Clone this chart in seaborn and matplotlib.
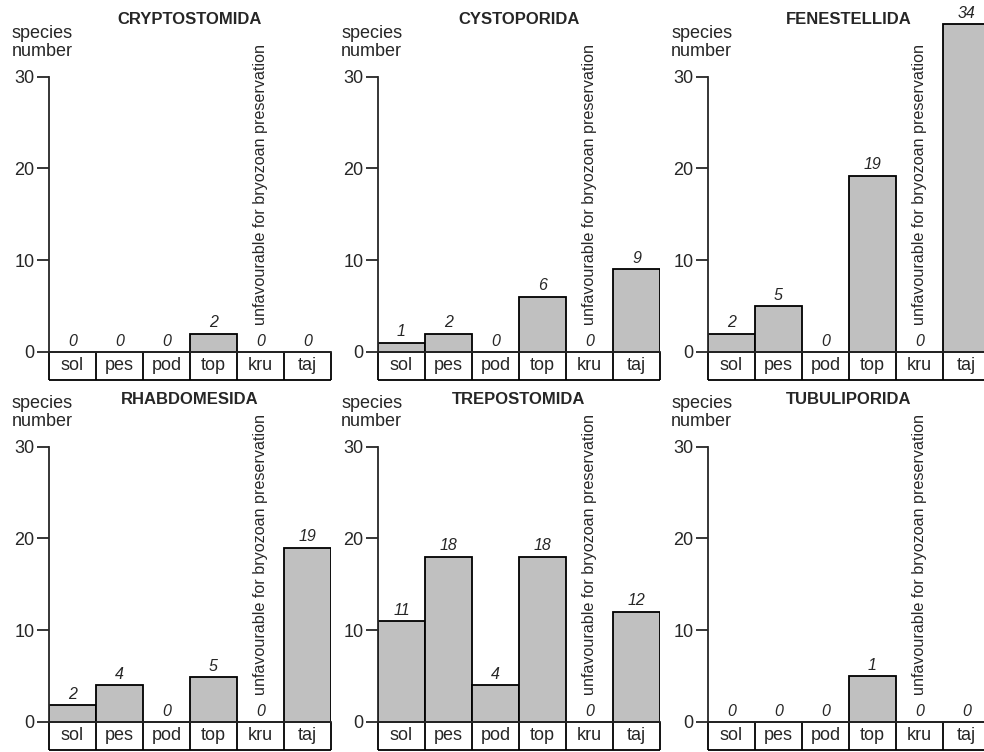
import numpy as np
import pandas as pd
import matplotlib
matplotlib.use("Agg")
import matplotlib.pyplot as plt
import seaborn as sns

sns.set_style("ticks")
plt.rcParams["font.family"] = ["Liberation Sans", "DejaVu Sans"]

# ---- data ----
categories = ["sol", "pes", "pod", "top", "kru", "taj"]
orders = ["CRYPTOSTOMIDA", "CYSTOPORIDA", "FENESTELLIDA",
          "RHABDOMESIDA", "TREPOSTOMIDA", "TUBULIPORIDA"]

# printed species numbers
cryptostomida_labels = [0, 0, 0, 2, 0, 0]
cystoporida_labels = [1, 2, 0, 6, 0, 9]
fenestellida_labels = [2, 5, 0, 19, 0, 34]
rhabdomesida_labels = [2, 4, 0, 5, 0, 19]
trepostomida_labels = [11, 18, 4, 18, 0, 12]
tubuliporida_labels = [0, 0, 0, 1, 0, 0]

# bar heights as drawn in the figure
cryptostomida_bars = [0, 0, 0, 2, 0, 0]
cystoporida_bars = [1, 2, 0, 6, 0, 9]
fenestellida_bars = [2, 5, 0, 19.2, 0, 35.7]
rhabdomesida_bars = [1.8, 4, 0, 4.9, 0, 19]
trepostomida_bars = [11, 18, 4, 18, 0, 12]
tubuliporida_bars = [0, 0, 0, 5, 0, 0]

yticks = [0, 10, 20, 30]
note = "unfavourable for bryozoan preservation"

bars = [cryptostomida_bars, cystoporida_bars, fenestellida_bars,
        rhabdomesida_bars, trepostomida_bars, tubuliporida_bars]
labels = [cryptostomida_labels, cystoporida_labels, fenestellida_labels,
          rhabdomesida_labels, trepostomida_labels, tubuliporida_labels]

# ---- layout (pixels) ----
W, H = 984, 752
fig = plt.figure(figsize=(W / 100, H / 100), dpi=100)
UNIT = 9.18          # px per species unit
BOX = 28             # px height of category box
AX_W = 282
AX_H = 370
spine_x = [49, 378, 708]
zero_y = [352, 722]
title_y = [19, 399]
LW = 1.3
GRAY = "#c0c0c0"

for k, name in enumerate(orders):
    r, c = divmod(k, 3)
    sx, zy = spine_x[c], zero_y[r]
    ax = fig.add_axes([sx / W, (H - (zy + BOX)) / H, AX_W / W, AX_H / H])
    df = pd.DataFrame({"cat": categories, "val": bars[k]})
    sns.barplot(data=df, x="cat", y="val", order=categories, ax=ax,
                color=GRAY, saturation=1, edgecolor="black",
                linewidth=LW, width=1.0)
    box = BOX / UNIT
    top = (AX_H - BOX) / UNIT
    ax.set_xlim(-0.5, 5.5)
    ax.set_ylim(-box, top)
    ax.set_xlabel("")
    ax.set_ylabel("")
    ax.set_xticks([])
    ax.set_yticks(yticks)
    ax.tick_params(axis="y", length=8.6, width=LW, pad=2, labelsize=13,
                   direction="out")
    for s in ["top", "right"]:
        ax.spines[s].set_visible(False)
    ax.spines["left"].set_bounds(0, 30)
    ax.spines["left"].set_linewidth(LW)
    ax.spines["bottom"].set_position(("data", 0))
    ax.spines["bottom"].set_linewidth(LW)
    ax.patch.set_alpha(0)
    # category box
    ax.hlines(-box, -0.5, 5.5, color="black", lw=LW, clip_on=False)
    ax.vlines(np.arange(len(categories) + 1) - 0.5, -box, 0,
              color="black", lw=LW, clip_on=False)
    for i, cat in enumerate(categories):
        ax.text(i, -box / 2, cat, ha="center", va="center", fontsize=13)
    # value labels
    for i, (h, lab) in enumerate(zip(bars[k], labels[k])):
        ax.annotate(str(lab), xy=(i, h), xytext=(0, 2.5),
                    textcoords="offset points", ha="center", va="bottom",
                    fontsize=11.5, style="italic", clip_on=False,
                    annotation_clip=False)
    # vertical note over kru
    ax.annotate(note, xy=(categories.index("kru"), 0), xytext=(0, 27 * 0.72),
                textcoords="offset points", rotation=90, ha="center",
                va="bottom", fontsize=11.6, annotation_clip=False)
    # titles and axis label
    fig.text((sx + AX_W / 2) / W, 1 - title_y[r] / H, name, ha="center",
             va="center", fontsize=12, fontweight="bold")
    fig.text((sx - 37) / W, 1 - (zy - 296) / H, "species\nnumber",
             ha="left", va="baseline", fontsize=13, linespacing=1.05)

fig.savefig("out.png", dpi=100)
